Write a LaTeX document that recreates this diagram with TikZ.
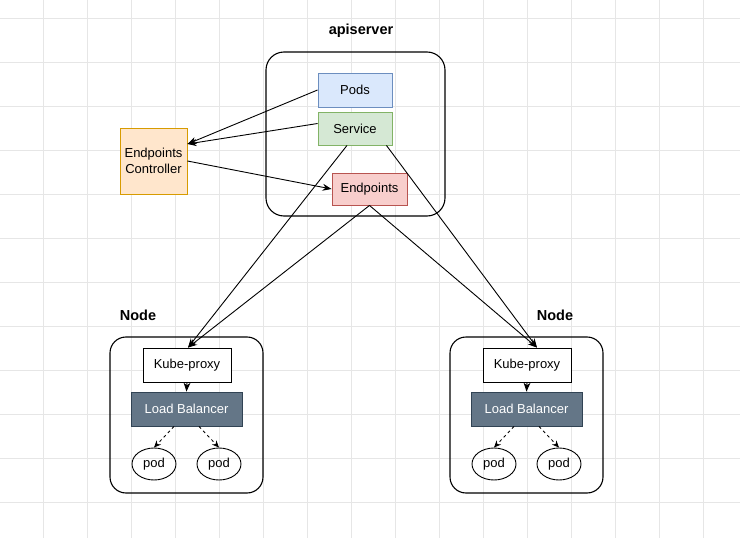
\documentclass[tikz,border=0pt]{standalone}
\usepackage{fontspec}
\setmainfont{Liberation Sans}
\usetikzlibrary{shapes.geometric,arrows.meta}

\definecolor{podsfill}{HTML}{DAE8FC}
\definecolor{podsline}{HTML}{6C8EBF}
\definecolor{svcfill}{HTML}{D5E8D4}
\definecolor{svcline}{HTML}{82B366}
\definecolor{epfill}{HTML}{F8CECC}
\definecolor{epline}{HTML}{B85450}
\definecolor{ctlfill}{HTML}{FFE6CC}
\definecolor{ctlline}{HTML}{D79B00}
\definecolor{lbfill}{HTML}{647687}
\definecolor{lbline}{HTML}{314354}
\definecolor{gridcol}{HTML}{E6E6E6}

\begin{document}
\begin{tikzpicture}[x=1pt,y=-1pt,
  every node/.style={font=\fontsize{13}{15.5}\selectfont},
  title/.style={font=\fontsize{14.5}{16}\selectfont\bfseries},
  box/.style={draw,rectangle,inner sep=0pt,line width=0.9pt,minimum width=74pt,minimum height=34pt},
  group/.style={draw,rectangle,rounded corners=18pt,line width=1.1pt},
  pod/.style={draw,ellipse,inner sep=0pt,line width=0.9pt,minimum width=44pt,minimum height=32pt},
  link/.style={-{Stealth[length=9pt,width=7pt]},line width=0.9pt},
  dlink/.style={-{Stealth[length=7pt,width=6pt]},line width=0.8pt,dashed}]
\useasboundingbox (0,0) rectangle (740,538);
\fill[white] (0,0) rectangle (740,538);
% grid
\foreach \gx in {43,87,...,703} \draw[gridcol,line width=0.7pt] (\gx,0) -- (\gx,538);
\foreach \gy in {18,62,...,502} \draw[gridcol,line width=0.7pt] (0,\gy) -- (740,\gy);

% apiserver
\node[title] (apititle) at (361,31) {apiserver};
\node[group,minimum width=179pt,minimum height=164pt] (api) at (355.5,134) {};
\node[box,fill=podsfill,draw=podsline] (pods) at (355,90) {Pods};
\node[box,fill=svcfill,draw=svcline,minimum height=33pt] (service) at (355,128.5) {Service};
\node[box,fill=epfill,draw=epline,minimum width=75pt,minimum height=32pt] (endpoints) at (369.5,189) {Endpoints};
\node[box,fill=ctlfill,draw=ctlline,minimum width=67pt,minimum height=66pt,align=center] (ctl) at (153.5,161) {Endpoints\\Controller};

% left node
\node[title] (nodetitleA) at (138,315) {Node};
\node[group,minimum width=153pt,minimum height=156pt,rounded corners=16pt] (nodeA) at (186.5,415) {};
\node[box,fill=white,minimum width=88pt] (kpA) at (187,365) {Kube-proxy};
\node[box,fill=lbfill,draw=lbline,text=white,minimum width=111pt] (lbA) at (186.5,409) {Load Balancer};
\node[pod] (podA1) at (154,464) {pod};
\node[pod] (podA2) at (219,464) {pod};

% right node
\node[title] (nodetitleB) at (555,315) {Node};
\node[group,minimum width=153pt,minimum height=156pt,rounded corners=16pt] (nodeB) at (526.5,415) {};
\node[box,fill=white,minimum width=88pt] (kpB) at (527,365) {Kube-proxy};
\node[box,fill=lbfill,draw=lbline,text=white,minimum width=111pt] (lbB) at (526.5,409) {Load Balancer};
\node[pod] (podB1) at (494,464) {pod};
\node[pod] (podB2) at (559,464) {pod};

% connectors
\draw[link] (pods.west) -- ([yshift=17pt]ctl.east);
\draw[link] ([yshift=5pt]service.west) -- ([yshift=17pt]ctl.east);
\draw[link] (ctl.east) -- (endpoints.west);
\draw[link] ([xshift=-8pt]service.south) -- ([xshift=1pt]kpA.north);
\draw[link] ([xshift=-6pt]service.south east) -- ([xshift=10pt]kpB.north);
\draw[link] (endpoints.south) -- ([xshift=1pt]kpA.north);
\draw[link] (endpoints.south) -- ([xshift=10pt]kpB.north);
\draw[link] (kpA.south) -- (lbA.north);
\draw[link] (kpB.south) -- (lbB.north);
\draw[dlink] ([xshift=-12.5pt]lbA.south) -- (podA1.north);
\draw[dlink] ([xshift=12.5pt]lbA.south) -- (podA2.north);
\draw[dlink] ([xshift=-12.5pt]lbB.south) -- (podB1.north);
\draw[dlink] ([xshift=12.5pt]lbB.south) -- (podB2.north);
\end{tikzpicture}
\end{document}
